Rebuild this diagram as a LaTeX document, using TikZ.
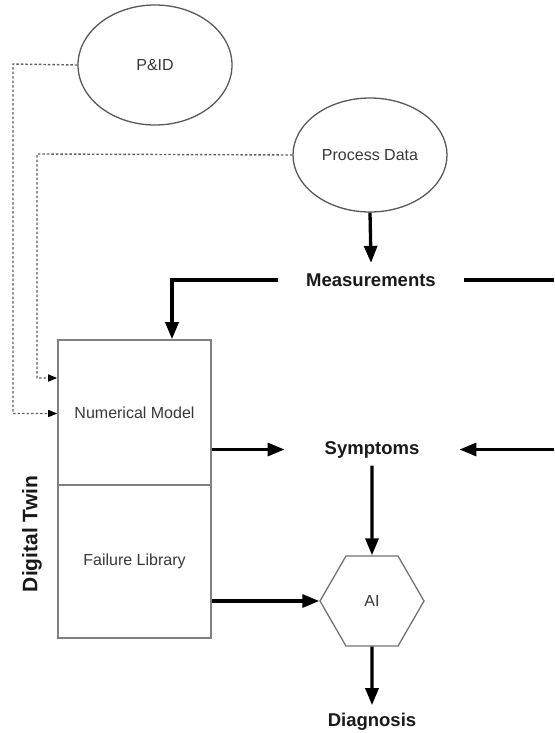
\documentclass[tikz,border=0pt]{standalone}
\usepackage{fontspec}
\setmainfont{Liberation Sans}
\usetikzlibrary{arrows.meta,shapes.geometric}
\begin{document}
\begin{tikzpicture}[x=1pt,y=-1pt,
  lbl/.style={font=\fontsize{16}{18}\selectfont, text=black!78},
  boldlbl/.style={font=\fontsize{18.5}{20}\selectfont\bfseries, text=black!90},
  oval/.style={draw=black!65, line width=1.3pt, ellipse, inner sep=0pt},
  boxpart/.style={draw=black!50, line width=1.6pt, rectangle, inner sep=0pt, minimum width=153pt},
  thickarr/.style={line width=3.3pt, -{Triangle[length=17pt,width=13pt]}},
  thickline/.style={line width=3.3pt},
  dotarr/.style={draw=black!62, line width=1.4pt, dash pattern=on 2.5pt off 2pt,
                 -{Triangle[length=9pt,width=7pt,color=black]}}]
\useasboundingbox (0,0) rectangle (554,733);

% ovals
\node[oval, minimum width=154pt, minimum height=120pt, lbl] (pid) at (155,65) {P\&ID};
\node[oval, minimum width=154pt, minimum height=114pt, lbl] (pd) at (370,155) {Process Data};

% digital twin box
\node[boxpart, minimum height=145pt, lbl] (num) at (134.5,412.5) {Numerical Model};
\node[boxpart, minimum height=153pt, lbl] (fail) at (134.5,561.5) {Failure Library};
\node[boldlbl, font=\fontsize{21}{23}\selectfont\bfseries, rotate=90] (dt) at (32,534) {Digital Twin};

% labels
\node[boldlbl, inner xsep=28pt, inner ysep=10.5pt] (meas) at (371,280) {Measurements};
\node[boldlbl, inner xsep=40pt, inner ysep=7.5pt] (sym) at (372,449.5) {Symptoms};
\node[boldlbl, inner ysep=7.5pt] (diag) at (372,721.5) {Diagnosis};

% AI hexagon
\node[draw=black!55, line width=1.3pt, regular polygon, regular polygon sides=6,
      minimum size=104pt, inner sep=0pt, lbl] (ai) at (372,601) {AI};

% free ends at picture edge
\coordinate (mR) at (554,280);
\coordinate (sR) at (554,449.5);
\coordinate (pidc) at (13,64);
\coordinate (pdc) at (37,154);

% dotted connections
\draw[dotarr] (pid.west) -- (pidc) |- ([yshift=-1pt]num.west);
\draw[dotarr] (pd.west) -- (pdc) |- ([yshift=34.5pt]num.west);

% thick connections
\draw[thickarr] (pd.south) -- (meas.north);
\draw[thickarr] (meas.west) -| ([xshift=37.5pt]num.north);
\draw[thickline] (meas.east) -- (meas.east -| mR);
\draw[thickarr] (sym.west -| num.east) -- (sym.west);
\draw[thickarr] (sR) -- (sym.east);
\draw[thickarr] (sym.south) -- (ai.north);
\draw[thickarr] (ai.west -| fail.east) -- (ai.west);
\draw[thickarr] (ai.south) -- (diag.north);
\end{tikzpicture}
\end{document}
